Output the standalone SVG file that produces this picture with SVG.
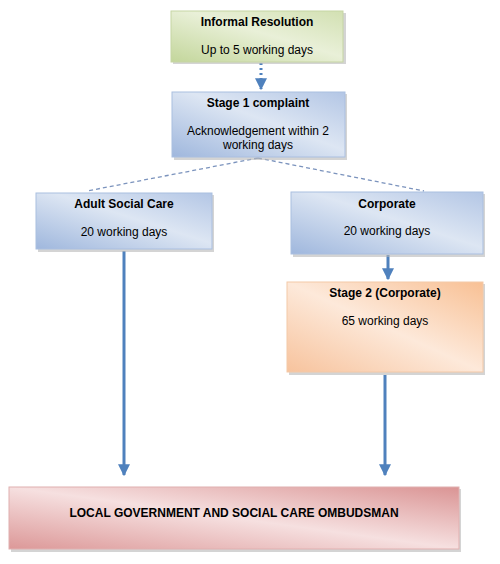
<svg xmlns="http://www.w3.org/2000/svg" width="500" height="564" viewBox="0 0 500 564">
<defs>
<style>
.t{font-family:"Liberation Sans",Arial,sans-serif;font-size:12px;fill:#000;text-anchor:middle}
.b{font-weight:bold}
.sh{fill:#b8b8b8;opacity:0.6}
.arr{stroke:#4f81bd;stroke-width:3;fill:none}
.dash{stroke:#7b93bd;stroke-width:1.3;stroke-dasharray:4 3;fill:none}
</style>
<linearGradient id="gGreen" x1="0" y1="1" x2="1" y2="0">
<stop offset="0" stop-color="#c3d69b"/><stop offset="0.55" stop-color="#e9f0d8"/><stop offset="1" stop-color="#d2e0b2"/>
</linearGradient>
<linearGradient id="gBlue" x1="0" y1="1" x2="1" y2="0">
<stop offset="0" stop-color="#9fb7dd"/><stop offset="0.55" stop-color="#dde6f3"/><stop offset="1" stop-color="#b3c6e5"/>
</linearGradient>
<linearGradient id="gOrange" x1="0" y1="1" x2="1" y2="0">
<stop offset="0" stop-color="#f7c39d"/><stop offset="0.5" stop-color="#fde9da"/><stop offset="1" stop-color="#f8c094"/>
</linearGradient>
<linearGradient id="gPink" x1="0" y1="1" x2="1" y2="0">
<stop offset="0" stop-color="#dc9898"/><stop offset="0.5" stop-color="#f6e0e0"/><stop offset="1" stop-color="#da9494"/>
</linearGradient>
<marker id="ah" viewBox="0 0 10 10" refX="9" refY="5" markerWidth="4" markerHeight="4" orient="auto" markerUnits="strokeWidth">
<path d="M0,0 L10,5 L0,10 Z" fill="#4f81bd"/>
</marker>
</defs>
<rect width="500" height="564" fill="#fff"/>

<g id="connectors">
<line x1="261" y1="63" x2="261" y2="89" stroke="#4f81bd" stroke-width="3" stroke-dasharray="2 3" marker-end="url(#ah)"/>
<line class="dash" x1="258" y1="158" x2="87" y2="191"/>
<line class="dash" x1="258" y1="158" x2="424" y2="191"/>
<line class="arr" x1="388" y1="255" x2="388" y2="279" marker-end="url(#ah)"/>
<line class="arr" x1="124" y1="251" x2="124" y2="475" marker-end="url(#ah)"/>
<line class="arr" x1="385" y1="375" x2="385" y2="475" marker-end="url(#ah)"/>
</g>

<g id="informal">
<rect class="sh" x="173" y="13" width="173" height="51"/>
<rect x="171" y="11" width="172" height="51" fill="url(#gGreen)" stroke="#c6d5a4" stroke-width="1"/>
<text class="t b" x="257" y="26">Informal Resolution</text>
<text class="t" x="257" y="54">Up to 5 working days</text>
</g>

<g id="stage1">
<rect class="sh" x="174" y="94" width="173" height="66"/>
<rect x="172" y="92" width="173" height="65" fill="url(#gBlue)" stroke="#aabfe0" stroke-width="1"/>
<text class="t b" x="258" y="107">Stage 1 complaint</text>
<text class="t" x="258" y="135">Acknowledgement within 2</text>
<text class="t" x="258" y="149">working days</text>
</g>

<g id="adult">
<rect class="sh" x="38" y="195" width="176" height="57"/>
<rect x="36" y="193" width="176" height="56" fill="url(#gBlue)" stroke="#aabfe0" stroke-width="1"/>
<text class="t b" x="124" y="208">Adult Social Care</text>
<text class="t" x="124" y="236">20 working days</text>
</g>

<g id="corporate">
<rect class="sh" x="293" y="194" width="192" height="63"/>
<rect x="291" y="192" width="192" height="62" fill="url(#gBlue)" stroke="#aabfe0" stroke-width="1"/>
<text class="t b" x="387" y="208">Corporate</text>
<text class="t" x="387" y="235">20 working days</text>
</g>

<g id="stage2">
<rect class="sh" x="289" y="284" width="196" height="91"/>
<rect x="287" y="282" width="196" height="90" fill="url(#gOrange)" stroke="#f3c9a8" stroke-width="1"/>
<text class="t b" x="385" y="297">Stage 2 (Corporate)</text>
<text class="t" x="385" y="325">65 working days</text>
</g>

<g id="ombudsman">
<rect class="sh" x="11" y="489" width="450" height="63"/>
<rect x="9" y="487" width="450" height="62" fill="url(#gPink)" stroke="#e0b0b0" stroke-width="1"/>
<text class="t b" x="234" y="517">LOCAL GOVERNMENT AND SOCIAL CARE OMBUDSMAN</text>
</g>
</svg>
